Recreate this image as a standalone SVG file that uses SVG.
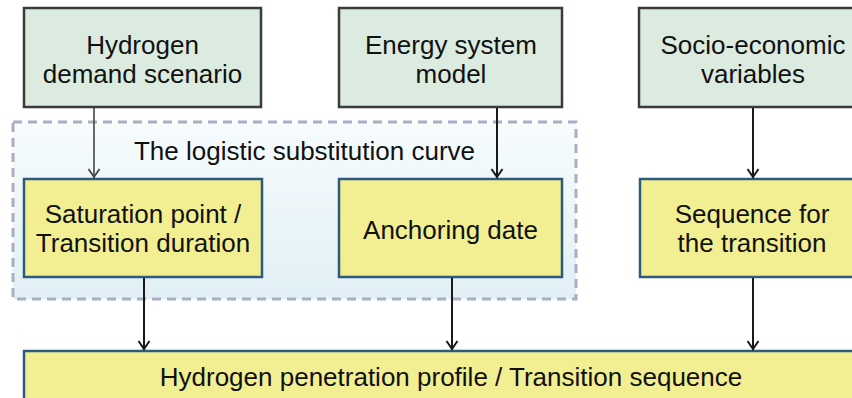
<svg xmlns="http://www.w3.org/2000/svg" width="852" height="398" viewBox="0 0 852 398">
  <defs>
    <linearGradient id="grp" x1="0" y1="0" x2="0" y2="1">
      <stop offset="0" stop-color="#f7fcfd"/>
      <stop offset="1" stop-color="#e1f0f6"/>
    </linearGradient>
    <marker id="arr" markerUnits="userSpaceOnUse" markerWidth="14" markerHeight="14" viewBox="-12 -7 14 14" refX="0" refY="0" orient="auto" overflow="visible">
      <path d="M-9,-5.5 L-1,0 L-9,5.5" fill="none" stroke="#1a1a1a" stroke-width="2"/>
    </marker>
    <marker id="arrg" markerUnits="userSpaceOnUse" markerWidth="14" markerHeight="14" viewBox="-12 -7 14 14" refX="0" refY="0" orient="auto" overflow="visible">
      <path d="M-9,-5.5 L-1,0 L-9,5.5" fill="none" stroke="#444" stroke-width="1.8"/>
    </marker>
    <style>
      .t{font-family:"Liberation Sans",Arial,sans-serif;font-size:26px;fill:#111;text-anchor:middle}
      .g{fill:#dbebdf;stroke:#3b3b3b;stroke-width:2.5}
      .y{fill:#f2ef92;stroke:#2d5a7e;stroke-width:2.5}
      .c{stroke:#1a1a1a;stroke-width:2;fill:none}
    </style>
  </defs>
  <rect width="852" height="398" fill="#ffffff"/>
  <g id="container">
    <rect x="13" y="122" width="563" height="177" fill="url(#grp)" stroke="#a9aec3" stroke-width="3" stroke-dasharray="9,6"/>
    <text class="t" x="304.5" y="160">The logistic substitution curve</text>
  </g>
  <g id="n-hydrogen-demand">
    <rect class="g" x="24" y="8" width="237" height="99"/>
    <text class="t" x="142.5" y="54">Hydrogen</text>
    <text class="t" x="142.5" y="83">demand scenario</text>
  </g>
  <g id="n-energy-model">
    <rect class="g" x="339" y="8" width="223" height="99"/>
    <text class="t" x="451" y="54">Energy system</text>
    <text class="t" x="451" y="83">model</text>
  </g>
  <g id="n-socio">
    <rect class="g" x="639" y="8" width="225" height="99"/>
    <text class="t" x="753" y="54">Socio-economic</text>
    <text class="t" x="753" y="83">variables</text>
  </g>
  <g id="n-saturation">
    <rect class="y" x="24" y="179" width="238" height="98"/>
    <text class="t" x="143" y="223">Saturation point /</text>
    <text class="t" x="143" y="252">Transition duration</text>
  </g>
  <g id="n-anchoring">
    <rect class="y" x="339" y="179" width="223" height="98"/>
    <text class="t" x="450.5" y="239">Anchoring date</text>
  </g>
  <g id="n-sequence">
    <rect class="y" x="640" y="179" width="225" height="98"/>
    <text class="t" x="752" y="223">Sequence for</text>
    <text class="t" x="752" y="252">the transition</text>
  </g>
  <g id="n-profile">
    <rect class="y" x="24" y="351" width="840" height="60"/>
    <text class="t" x="451" y="386">Hydrogen penetration profile / Transition sequence</text>
  </g>
  <g id="connectors">
    <line x1="94" y1="108" x2="94" y2="178" marker-end="url(#arrg)" stroke="#444" stroke-width="1.6"/>
    <line class="c" x1="497" y1="108" x2="497" y2="178" marker-end="url(#arr)"/>
    <line class="c" x1="753" y1="108" x2="753" y2="178" marker-end="url(#arr)"/>
    <line class="c" x1="144" y1="278" x2="144" y2="350" marker-end="url(#arr)"/>
    <line class="c" x1="452" y1="278" x2="452" y2="350" marker-end="url(#arr)"/>
    <line class="c" x1="753" y1="278" x2="753" y2="350" marker-end="url(#arr)"/>
  </g>
</svg>
